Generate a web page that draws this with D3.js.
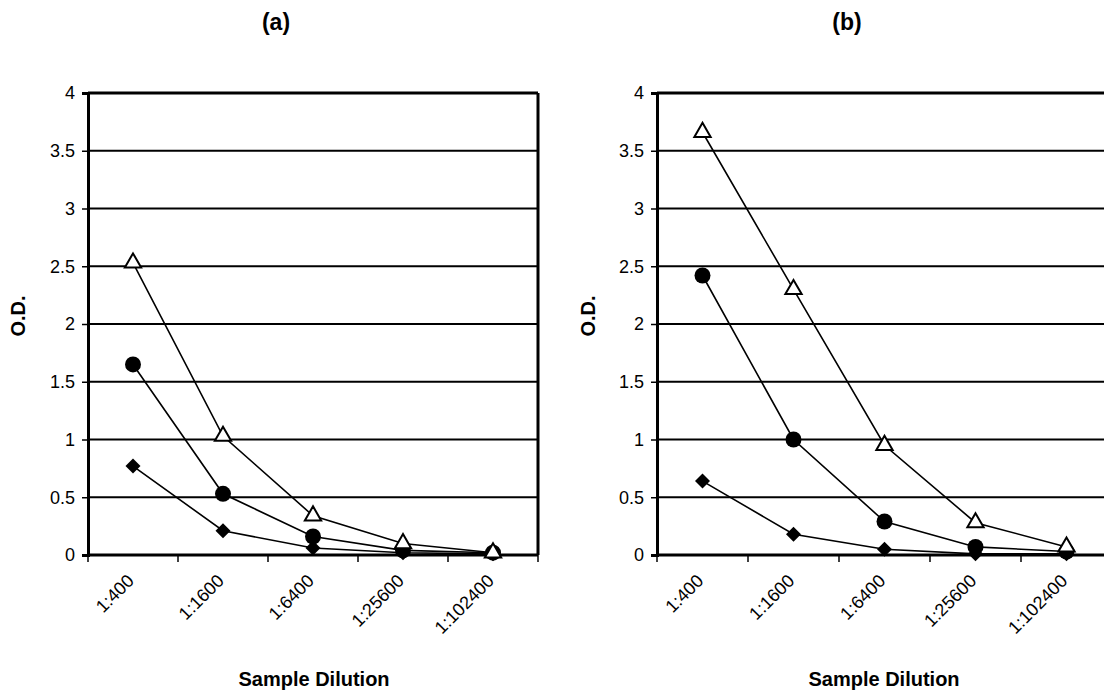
<!DOCTYPE html>
<html>
<head>
<meta charset="utf-8">
<script src="https://cdn.jsdelivr.net/npm/d3@7"></script>
<style>
  html, body { margin: 0; padding: 0; background: #fff; }
  svg { display: block; font-family: "Liberation Sans", Arial, sans-serif; }
</style>
</head>
<body>
<svg id="chart" width="1104" height="694"></svg>
<script>
// ---- data ----
const dilutions = ["1:400", "1:1600", "1:6400", "1:25600", "1:102400"];
const yTicks = [0, 0.5, 1, 1.5, 2, 2.5, 3, 3.5, 4];
const panelTitles = ["(a)", "(b)"];
const aTriangle = [2.53, 1.03, 0.34, 0.10, 0.02];
const aCircle   = [1.65, 0.53, 0.16, 0.04, 0.02];
const aDiamond  = [0.77, 0.21, 0.06, 0.02, 0.01];
const bTriangle = [3.66, 2.30, 0.95, 0.28, 0.07];
const bCircle   = [2.42, 1.00, 0.29, 0.07, 0.03];
const bDiamond  = [0.64, 0.18, 0.05, 0.01, 0.01];

const panels = [
  { title: panelTitles[0], x0: 88, x1: 538, titleX: 276, yLabX: 18, xLabX: 314,
    series: [{ v: aDiamond, m: "diamond" }, { v: aCircle, m: "circle" }, { v: aTriangle, m: "triangle" }] },
  { title: panelTitles[1], x0: 657, x1: 1112, titleX: 847, yLabX: 588, xLabX: 884,
    series: [{ v: bDiamond, m: "diamond" }, { v: bCircle, m: "circle" }, { v: bTriangle, m: "triangle" }] }
];

const svg = d3.select("#chart");
const yTop = 93, yBot = 555;
const FONT = "Liberation Sans, Arial, sans-serif";

panels.forEach(p => {
  const g = svg.append("g");
  const x = d3.scaleBand().domain(dilutions).range([p.x0, p.x1]).padding(0);
  const y = d3.scaleLinear().domain([0, 4]).range([yBot, yTop]);
  const cx = d => x(d) + x.bandwidth() / 2;

  // gridlines
  g.append("g").selectAll("line").data(yTicks.filter(t => t > 0 && t < 4)).join("line")
    .attr("x1", p.x0).attr("x2", p.x1)
    .attr("y1", d => y(d)).attr("y2", d => y(d))
    .attr("stroke", "#000").attr("stroke-width", 2);

  // frame top + right
  g.append("line").attr("x1", p.x0).attr("x2", p.x1).attr("y1", y(4)).attr("y2", y(4))
    .attr("stroke", "#000").attr("stroke-width", 3);
  g.append("line").attr("x1", p.x1).attr("x2", p.x1).attr("y1", y(4)).attr("y2", y(0))
    .attr("stroke", "#000").attr("stroke-width", 3);

  // y axis
  const ya = d3.axisLeft(y).tickValues(yTicks).tickSize(6).tickPadding(7)
    .tickFormat(d => String(d));
  const yg = g.append("g").attr("transform", `translate(${p.x0},0)`).call(ya);
  yg.select(".domain").attr("stroke-width", 3);
  yg.selectAll(".tick line").attr("stroke-width", 1.5);
  yg.selectAll(".tick text").attr("font-size", 18).attr("font-family", FONT).attr("fill", "#000");

  // x axis (ticks at band edges)
  const edges = dilutions.map(d => x(d)).concat([p.x1]);
  g.append("line").attr("x1", p.x0).attr("x2", p.x1).attr("y1", yBot).attr("y2", yBot)
    .attr("stroke", "#000").attr("stroke-width", 3);
  g.append("g").selectAll("line").data(edges).join("line")
    .attr("x1", d => d).attr("x2", d => d).attr("y1", yBot).attr("y2", yBot + 7)
    .attr("stroke", "#000").attr("stroke-width", 1.5);
  g.append("g").selectAll("text").data(dilutions).join("text")
    .attr("transform", d => `translate(${cx(d) + 2},${yBot + 27}) rotate(-45)`)
    .attr("text-anchor", "end")
    .attr("font-size", 18)
    .text(d => d);

  // series
  const line = d3.line().x((v, i) => cx(dilutions[i])).y(v => y(v));
  p.series.forEach(s => {
    g.append("path").datum(s.v).attr("d", line)
      .attr("fill", "none").attr("stroke", "#000").attr("stroke-width", 1.6);
  });
  p.series.forEach(s => {
    const mg = g.append("g");
    s.v.forEach((v, i) => {
      const px = cx(dilutions[i]), py = y(v);
      if (s.m === "circle") {
        mg.append("circle").attr("cx", px).attr("cy", py).attr("r", 8).attr("fill", "#000");
      } else if (s.m === "diamond") {
        const r = 7.5;
        mg.append("path").attr("d", `M0,${-r}L${r},0L0,${r}L${-r},0Z`)
          .attr("transform", `translate(${px},${py})`).attr("fill", "#000");
      } else {
        mg.append("path").attr("d", d3.symbol(d3.symbolTriangle, 115)())
          .attr("transform", `translate(${px},${py})`)
          .attr("fill", "#fff").attr("stroke", "#000").attr("stroke-width", 2);
      }
    });
  });

  // titles
  g.append("text").attr("x", p.titleX).attr("y", 30).attr("text-anchor", "middle")
    .attr("font-size", 23).attr("font-weight", "bold").text(p.title);
  g.append("text").attr("transform", `translate(${p.yLabX + 7},${316}) rotate(-90)`)
    .attr("text-anchor", "middle").attr("font-size", 20).attr("font-weight", "bold").text("O.D.");
  g.append("text").attr("x", p.xLabX).attr("y", 686).attr("text-anchor", "middle")
    .attr("font-size", 20).attr("font-weight", "bold").text("Sample Dilution");
});
</script>
</body>
</html>
